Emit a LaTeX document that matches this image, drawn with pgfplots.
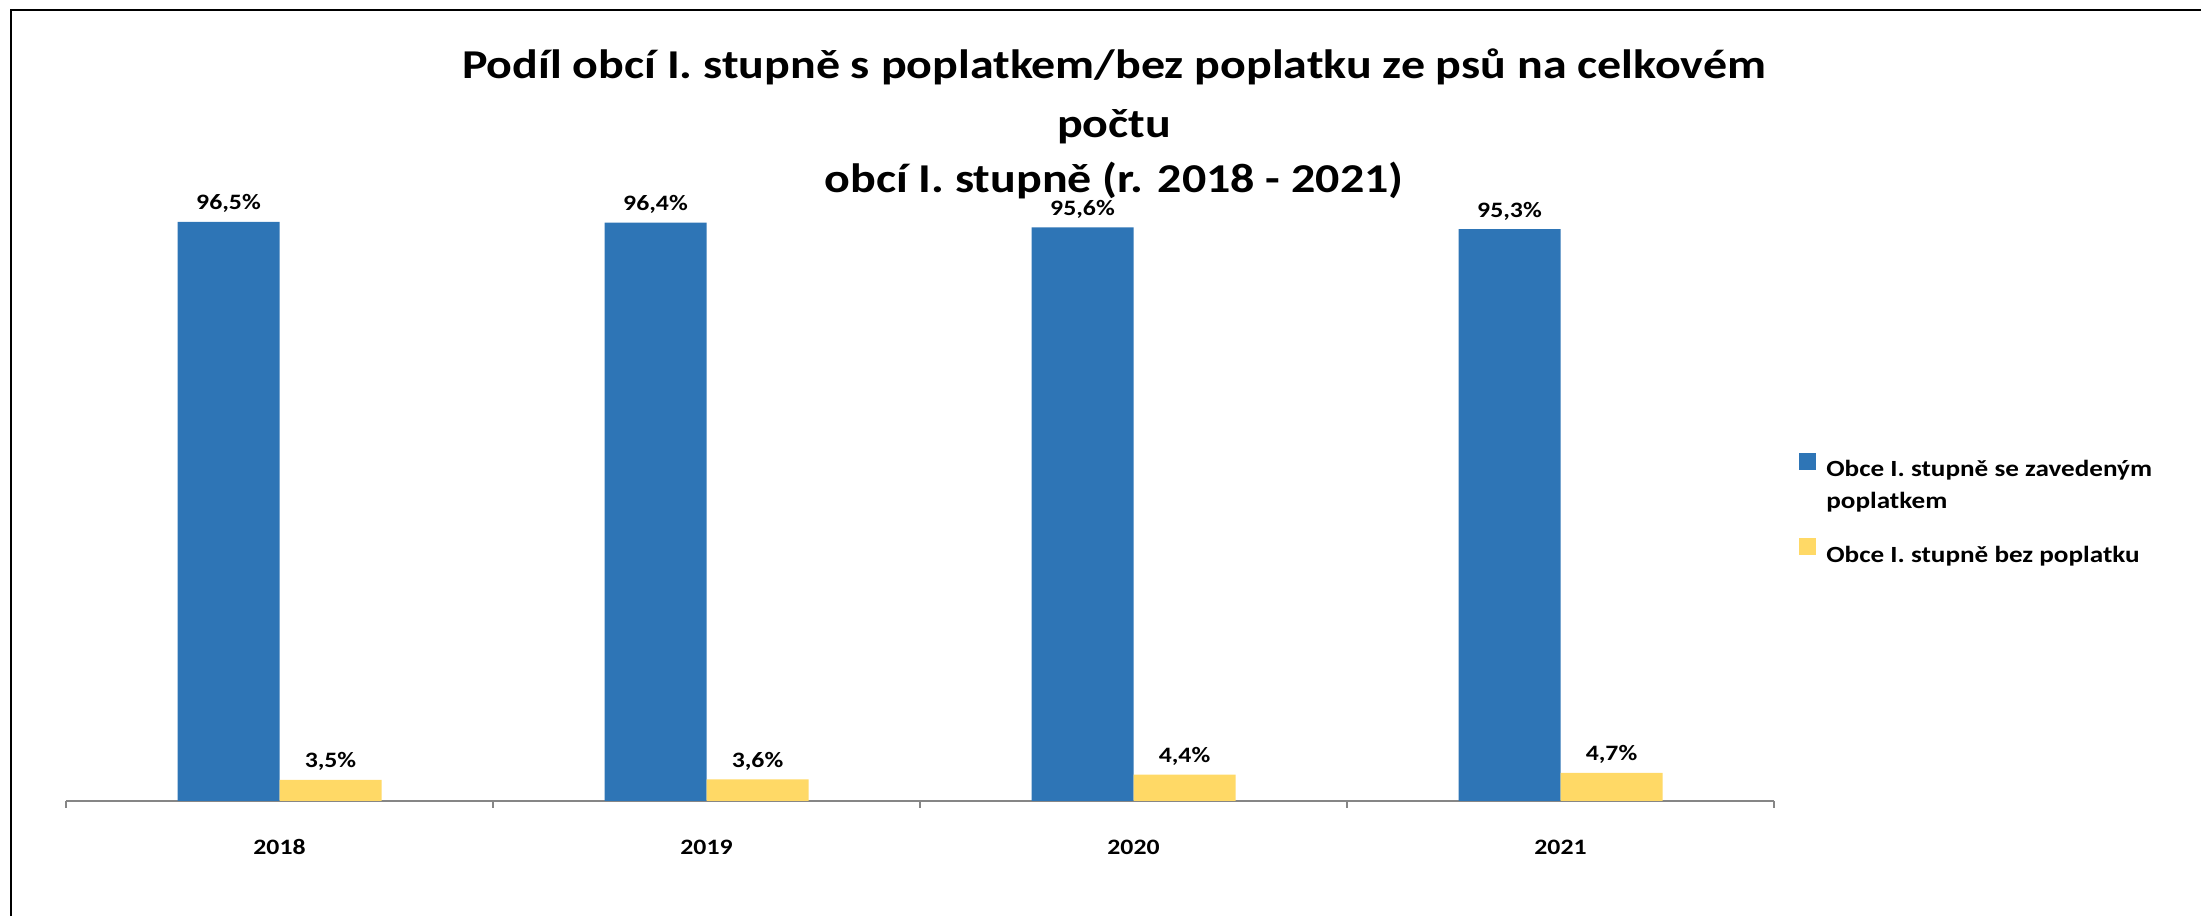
\documentclass[border=0pt]{standalone}
\usepackage{fontspec}
\setmainfont{Carlito}[FakeStretch=1.17]
\usepackage{pgfplots}
\pgfplotsset{compat=1.18}
\definecolor{cblue}{HTML}{2E75B6}
\definecolor{cyel}{HTML}{FFD966}
\definecolor{axgray}{HTML}{868686}
\pgfplotsset{/pgfplots/ybar legend/.style={/pgfplots/legend image code/.code={\useasboundingbox (0pt,1.8pt) rectangle (8.5pt,8.5pt);\fill[##1] (0pt,0pt) rectangle (8.5pt,8.5pt);}}}
\begin{document}
\begin{tikzpicture}
\useasboundingbox (0,0) rectangle (1100.5pt,458pt);
\draw[line width=1pt] (5.5pt,0) -- (5.5pt,453.1pt) -- (1100.5pt,453.1pt);
\begin{scope}[every node/.style={font=\bfseries\fontsize{20.5}{28.5}\selectfont, anchor=base, inner sep=0pt}]
\node at (557pt,418.7pt) {Podíl obcí I. stupně s poplatkem/bez poplatku ze psů na celkovém};
\node at (557pt,389.4pt) {počtu};
\node at (557pt,361.7pt) {obcí I. stupně (r. 2018 - 2021)};
\end{scope}
\begin{axis}[
 at={(33pt,57.5pt)}, anchor=south west, scale only axis, width=854pt, height=300pt,
 xmin=-0.5, xmax=3.5, ymin=0, ymax=100,
 ybar=0pt, bar width=51pt,
 axis x line*=bottom, axis y line=none,
 x axis line style={draw=axgray, line width=1pt},
 xtick={0,1,2,3}, xticklabels={2018,2019,2020,2021},
 major x tick style={draw=none},
 minor xtick={-0.5,0.5,1.5,2.5,3.5}, minor tick length=3.5pt, xtick align=outside,
 minor x tick style={draw=axgray, line width=1pt},
 xticklabel style={font=\bfseries\fontsize{11}{13}\selectfont, anchor=base, yshift=-22.5pt, inner sep=0pt},
 nodes near coords={\pgfmathprintnumber[fixed,fixed zerofill,precision=1,use comma,assume math mode=true]{\pgfplotspointmeta}\%},
 every node near coord/.append style={font=\bfseries\fontsize{11}{13}\selectfont, anchor=base, yshift=6pt, inner sep=0pt, text=black},
 clip=false,
 legend style={draw=none, fill=none, at={(1.0146,0.5803)}, anchor=north west, inner sep=0pt,
   font=\bfseries\fontsize{11.6}{16}\selectfont, nodes={inner sep=0pt}, row sep=29.3pt,
   /tikz/every odd column/.append style={column sep=5pt}},
 legend cell align=left,
]
\addplot[fill=cblue, draw=none] coordinates {(0,96.5) (1,96.4) (2,95.6) (3,95.3)};
\addlegendentry{\vtop{\hbox{Obce I. stupně se zavedeným}\hbox{poplatkem}}}
\addplot[fill=cyel, draw=none] coordinates {(0,3.5) (1,3.6) (2,4.4) (3,4.7)};
\addlegendentry{Obce I. stupně bez poplatku}
\end{axis}
\end{tikzpicture}
\end{document}
